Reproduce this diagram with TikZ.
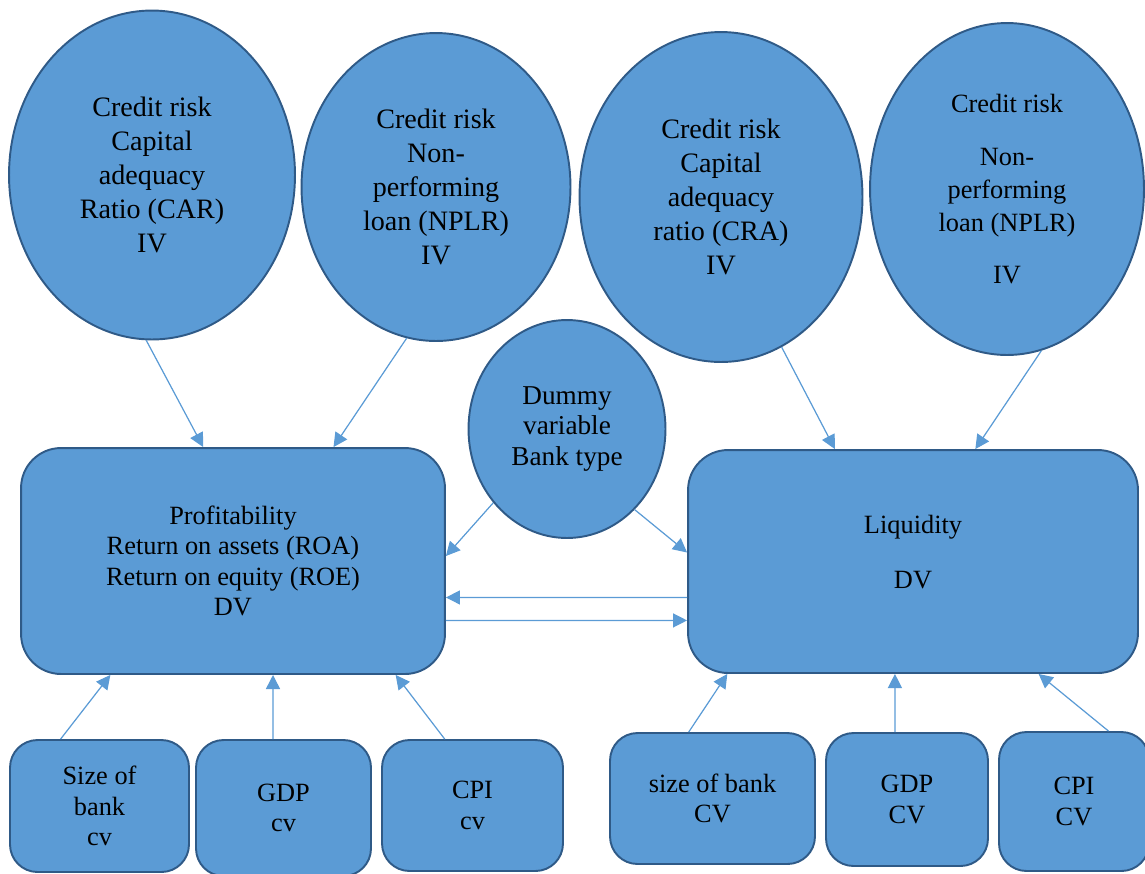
\documentclass[tikz,border=0pt]{standalone}
\usepackage{fontspec}
\setmainfont{Liberation Serif}
\usetikzlibrary{shapes.geometric,arrows.meta,calc}
\definecolor{fillblue}{HTML}{5B9BD5}
\definecolor{lineblue}{HTML}{2F5A87}

\begin{document}
\begin{tikzpicture}[x=0.02cm, y=-0.02cm,
	ivar/.style={ellipse, draw=lineblue, line width=1.1pt, fill=fillblue,
		align=center, inner sep=0pt, font=\fontsize{16}{19.3}\selectfont},
	dvar/.style={rectangle, rounded corners=0.8cm, draw=lineblue, line width=1.1pt,
		fill=fillblue, align=center, inner sep=0pt, font=\fontsize{15}{17.3}\selectfont},
	cvar/.style={rectangle, rounded corners=0.55cm, draw=lineblue, line width=1.1pt,
		fill=fillblue, align=center, inner sep=0pt, font=\fontsize{15}{17.3}\selectfont},
	link/.style={draw=fillblue, line width=0.7pt, -{Triangle[length=8pt, width=8pt]}}]

\useasboundingbox (0,0) rectangle (1145,873);

% independent variables
\node [ivar, minimum width=5.72cm, minimum height=6.58cm] (carL) at (152,175)
	{Credit risk\\ Capital\\ adequacy\\ Ratio (CAR)\\ IV};
\node [ivar, minimum width=5.38cm, minimum height=6.16cm] (nplL) at (436,187)
	{Credit risk\\ Non-\\ performing\\ loan (NPLR)\\ IV};
\node [ivar, minimum width=5.66cm, minimum height=6.6cm] (craR) at (721,197)
	{Credit risk\\ Capital\\ adequacy\\ ratio (CRA)\\ IV};
\node [ivar, minimum width=5.48cm, minimum height=6.64cm,
	font=\fontsize{15}{18.7}\selectfont] (nplR) at (1007,189)
	{Credit risk\\[12pt] Non-\\ performing\\ loan (NPLR)\\[11pt] IV};

% dependent variables
\node [dvar, minimum width=8.48cm, minimum height=4.52cm] (prof) at (233,561)
	{Profitability\\ Return on assets (ROA)\\ Return on equity (ROE)\\ DV};
\node [dvar, minimum width=9cm, minimum height=4.46cm] (liq) at (913,561.5)
	{Liquidity\\[14pt] DV\\[-6pt] \mbox{}};

% dummy
\node [ivar, minimum width=3.94cm, minimum height=4.36cm,
	font=\fontsize{15.5}{17.6}\selectfont] (dummy) at (567,429)
	{Dummy\\ variable\\ Bank type};

% control variables
\node [cvar, minimum width=3.58cm, minimum height=2.64cm] (sizeL) at (99.5,806)
	{Size of\\ bank\\ cv};
\node [cvar, minimum width=3.5cm, minimum height=2.72cm] (gdpL) at (283.5,808)
	{GDP\\ cv};
\node [cvar, minimum width=3.62cm, minimum height=2.62cm] (cpiL) at (472.5,805.5)
	{CPI\\ cv};
\node [cvar, minimum width=4.1cm, minimum height=2.62cm] (sizeR) at (712.5,798.5)
	{size of bank\\ CV};
\node [cvar, minimum width=3.24cm, minimum height=2.66cm] (gdpR) at (907,799.5)
	{GDP\\ CV};
\node [cvar, minimum width=3cm, minimum height=2.78cm] (cpiR) at (1074,801.5)
	{CPI\\ CV};

% arrows into the dependent variables
\draw [link] (carL.-92) -- ($(prof.north west)!0.43!(prof.north east)$);
\draw [link] (nplL.-101.5) -- ($(prof.north west)!0.736!(prof.north east)$);
\draw [link] (craR.-68.3) -- ($(liq.north west)!0.327!(liq.north east)$);
\draw [link] (nplR.-78.6) -- ($(liq.north west)!0.638!(liq.north east)$);

\draw [link] (dummy.-135) -- ($(prof.north east)!0.478!(prof.south east)$);
\draw [link] (dummy.-50.2) -- ($(liq.north west)!0.46!(liq.south west)$);

\draw [link] ($(liq.north west)!0.66!(liq.south west)$)
	-- ($(prof.north east)!0.66!(prof.south east)$);
\draw [link] ($(prof.north east)!0.761!(prof.south east)$)
	-- ($(liq.north west)!0.762!(liq.south west)$);

\draw [link] ($(sizeL.north west)!0.285!(sizeL.north east)$)
	-- ($(prof.south west)!0.212!(prof.south east)$);
\draw [link] ($(gdpL.north west)!0.44!(gdpL.north east)$)
	-- ($(prof.south west)!0.594!(prof.south east)$);
\draw [link] ($(cpiL.north west)!0.348!(cpiL.north east)$)
	-- ($(prof.south west)!0.882!(prof.south east)$);

\draw [link] ($(sizeR.north west)!0.385!(sizeR.north east)$)
	-- ($(liq.south west)!0.089!(liq.south east)$);
\draw [link] ($(gdpR.north west)!0.426!(gdpR.north east)$)
	-- ($(liq.south west)!0.46!(liq.south east)$);
\draw [link] ($(cpiR.north west)!0.727!(cpiR.north east)$)
	-- ($(liq.south west)!0.778!(liq.south east)$);
\end{tikzpicture}
\end{document}
